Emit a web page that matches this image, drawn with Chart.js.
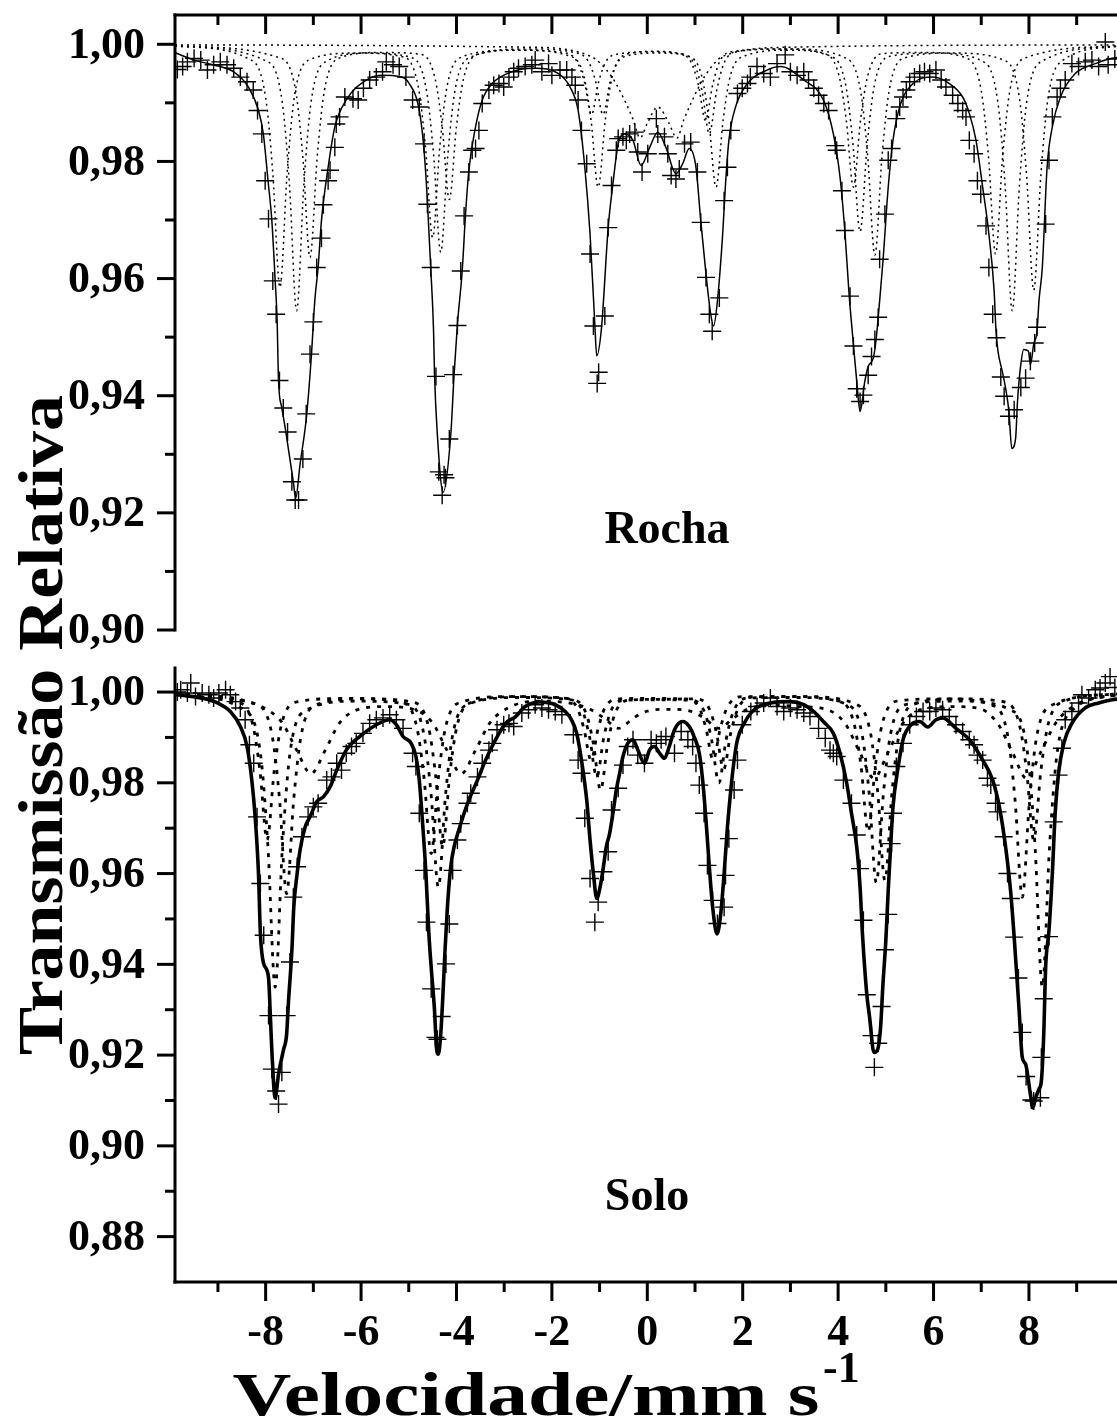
<!DOCTYPE html>
<html>
<head>
<meta charset="utf-8">
<script src="https://cdn.jsdelivr.net/npm/chart.js@4.4.1/dist/chart.umd.min.js"></script>
<style>
  html, body { margin: 0; padding: 0; background: #fff; overflow: hidden; }
  #wrap { position: relative; width: 1117px; height: 1425px; overflow: hidden; }
  #wrap canvas { position: absolute; left: 0; top: 0; }
</style>
</head>
<body>
<div id="wrap">
  <canvas id="rocha" width="1130" height="1425"></canvas>
  <canvas id="solo" width="1130" height="1425"></canvas>
</div>
<script>
/* ===============================
   Axis ticks / labels
================================ */
const xMajorTicks = [-8, -6, -4, -2, 0, 2, 4, 6, 8];
const xMinorTicks = [-9, -7, -5, -3, -1, 1, 3, 5, 7, 9];
const xTickLabels = ["-8", "-6", "-4", "-2", "0", "2", "4", "6", "8"];

const rochaYTicks = [0.90, 0.92, 0.94, 0.96, 0.98, 1.00];
const rochaYMinor = [0.91, 0.93, 0.95, 0.97, 0.99];
const rochaYLabels = ["0,90", "0,92", "0,94", "0,96", "0,98", "1,00"];

const soloYTicks = [0.88, 0.90, 0.92, 0.94, 0.96, 0.98, 1.00];
const soloYMinor = [0.89, 0.91, 0.93, 0.95, 0.97, 0.99];
const soloYLabels = ["0,88", "0,90", "0,92", "0,94", "0,96", "0,98", "1,00"];

/* ===============================
   Rocha - experimental points
================================ */
const rochaDadosX = [-9.85, -9.74, -9.64, -9.50, -9.36, -9.22, -9.09, -8.95, -8.81, -8.67, -8.53, -8.39, -8.26, -8.17, -8.08, -8.01, -7.94, -7.85, -7.78, -7.71, -7.63, -7.54, -7.45, -7.38, -7.31, -7.22, -7.15, -7.07, -7.00, -6.93, -6.83, -6.79, -6.69, -6.65, -6.55, -6.52, -6.45, -6.34, -6.17, -6.06, -5.95, -5.82, -5.68, -5.55, -5.47, -5.33, -5.20, -5.06, -4.92, -4.78, -4.68, -4.61, -4.54, -4.43, -4.37, -4.30, -4.26, -4.23, -4.15, -4.07, -3.98, -3.91, -3.84, -3.74, -3.67, -3.60, -3.53, -3.46, -3.32, -3.22, -3.11, -3.01, -2.90, -2.80, -2.70, -2.56, -2.42, -2.35, -2.21, -2.07, -2.00, -1.83, -1.69, -1.58, -1.51, -1.45, -1.38, -1.27, -1.20, -1.13, -1.05, -1.02, -0.89, -0.82, -0.75, -0.65, -0.61, -0.51, -0.44, -0.37, -0.26, -0.20, -0.11, 0.01, 0.19, 0.22, 0.36, 0.43, 0.50, 0.60, 0.67, 0.78, 0.91, 1.05, 1.12, 1.23, 1.30, 1.36, 1.51, 1.61, 1.68, 1.75, 1.89, 1.99, 2.10, 2.16, 2.30, 2.44, 2.58, 2.72, 2.89, 3.00, 3.14, 3.28, 3.38, 3.49, 3.59, 3.70, 3.80, 3.94, 3.97, 4.08, 4.14, 4.25, 4.32, 4.39, 4.46, 4.53, 4.63, 4.70, 4.77, 4.84, 4.87, 4.98, 5.05, 5.12, 5.22, 5.29, 5.36, 5.43, 5.50, 5.60, 5.71, 5.81, 5.92, 6.05, 6.16, 6.26, 6.40, 6.51, 6.61, 6.68, 6.75, 6.85, 6.92, 6.99, 7.10, 7.16, 7.24, 7.32, 7.41, 7.48, 7.58, 7.69, 7.83, 7.93, 8.03, 8.12, 8.17, 8.35, 8.42, 8.49, 8.59, 8.66, 8.76, 8.90, 9.04, 9.18, 9.32, 9.46, 9.60, 9.66, 9.80];
const rochaDadosY = [0.9957, 0.9962, 0.9970, 0.9976, 0.9973, 0.9956, 0.9965, 0.9970, 0.9965, 0.9959, 0.9944, 0.9936, 0.9922, 0.9887, 0.9847, 0.9767, 0.9702, 0.9596, 0.9539, 0.9426, 0.9379, 0.9338, 0.9253, 0.9222, 0.9222, 0.9292, 0.9369, 0.9471, 0.9526, 0.9619, 0.9669, 0.9726, 0.9767, 0.9785, 0.9824, 0.9864, 0.9876, 0.9910, 0.9907, 0.9905, 0.9925, 0.9939, 0.9944, 0.9953, 0.9970, 0.9965, 0.9962, 0.9944, 0.9905, 0.9893, 0.9830, 0.9727, 0.9619, 0.9433, 0.9270, 0.9230, 0.9265, 0.9260, 0.9326, 0.9436, 0.9520, 0.9613, 0.9707, 0.9782, 0.9819, 0.9822, 0.9853, 0.9899, 0.9922, 0.9930, 0.9933, 0.9927, 0.9944, 0.9953, 0.9959, 0.9962, 0.9965, 0.9973, 0.9953, 0.9967, 0.9947, 0.9956, 0.9956, 0.9944, 0.9930, 0.9905, 0.9853, 0.9796, 0.9642, 0.9519, 0.9421, 0.9440, 0.9536, 0.9687, 0.9759, 0.9819, 0.9839, 0.9842, 0.9836, 0.9847, 0.9850, 0.9816, 0.9782, 0.9813, 0.9873, 0.9847, 0.9842, 0.9813, 0.9776, 0.9770, 0.9787, 0.9830, 0.9833, 0.9782, 0.9696, 0.9602, 0.9539, 0.9510, 0.9567, 0.9733, 0.9790, 0.9853, 0.9916, 0.9925, 0.9933, 0.9944, 0.9962, 0.9950, 0.9944, 0.9967, 0.9982, 0.9953, 0.9947, 0.9953, 0.9939, 0.9925, 0.9913, 0.9899, 0.9887, 0.9827, 0.9819, 0.9750, 0.9682, 0.9570, 0.9485, 0.9412, 0.9390, 0.9401, 0.9435, 0.9467, 0.9496, 0.9534, 0.9633, 0.9710, 0.9802, 0.9822, 0.9873, 0.9893, 0.9910, 0.9922, 0.9936, 0.9944, 0.9950, 0.9953, 0.9950, 0.9956, 0.9939, 0.9927, 0.9913, 0.9899, 0.9887, 0.9876, 0.9836, 0.9813, 0.9767, 0.9744, 0.9690, 0.9619, 0.9539, 0.9499, 0.9432, 0.9399, 0.9365, 0.9376, 0.9414, 0.9430, 0.9459, 0.9490, 0.9517, 0.9693, 0.9802, 0.9876, 0.9910, 0.9925, 0.9939, 0.9967, 0.9962, 0.9970, 0.9973, 0.9962, 1.0004, 0.9965, 0.9975];

/* Rocha - fitted envelope */
const rochaAjusteX = [-9.88, -9.50, -9.10, -8.67, -8.36, -8.15, -8.05, -7.95, -7.87, -7.80, -7.76, -7.73, -7.66, -7.59, -7.42, -7.37, -7.28, -7.14, -7.04, -6.97, -6.90, -6.83, -6.69, -6.55, -6.31, -5.89, -5.55, -5.20, -4.99, -4.78, -4.68, -4.61, -4.54, -4.48, -4.46, -4.40, -4.28, -4.12, -4.05, -3.98, -3.88, -3.81, -3.74, -3.60, -3.46, -3.25, -2.84, -2.35, -1.86, -1.62, -1.45, -1.31, -1.20, -1.10, -1.06, -0.96, -0.82, -0.72, -0.61, -0.47, -0.30, -0.13, 0.05, 0.22, 0.39, 0.60, 0.74, 0.88, 1.02, 1.12, 1.23, 1.33, 1.39, 1.47, 1.58, 1.64, 1.71, 1.85, 2.10, 2.51, 2.79, 3.28, 3.69, 3.90, 4.04, 4.14, 4.23, 4.32, 4.39, 4.46, 4.56, 4.63, 4.74, 4.80, 4.87, 4.94, 5.05, 5.15, 5.29, 5.57, 5.99, 6.33, 6.61, 6.75, 6.89, 7.03, 7.16, 7.27, 7.31, 7.35, 7.44, 7.51, 7.58, 7.64, 7.72, 7.76, 7.82, 7.89, 7.99, 8.03, 8.10, 8.17, 8.21, 8.28, 8.38, 8.49, 8.66, 8.97, 9.39, 9.74, 9.90];
const rochaAjusteY = [0.9985, 0.9973, 0.9965, 0.9953, 0.9927, 0.9887, 0.9848, 0.9767, 0.9699, 0.9596, 0.9530, 0.9426, 0.9379, 0.9345, 0.9253, 0.9225, 0.9282, 0.9367, 0.9470, 0.9562, 0.9619, 0.9699, 0.9790, 0.9859, 0.9905, 0.9939, 0.9947, 0.9945, 0.9933, 0.9887, 0.9819, 0.9733, 0.9619, 0.9510, 0.9436, 0.9333, 0.9235, 0.9333, 0.9436, 0.9522, 0.9613, 0.9710, 0.9785, 0.9859, 0.9905, 0.9933, 0.9953, 0.9959, 0.9950, 0.9927, 0.9887, 0.9790, 0.9676, 0.9522, 0.9468, 0.9516, 0.9687, 0.9762, 0.9830, 0.9847, 0.9836, 0.9793, 0.9824, 0.9850, 0.9824, 0.9779, 0.9796, 0.9822, 0.9790, 0.9699, 0.9608, 0.9539, 0.9519, 0.9562, 0.9676, 0.9762, 0.9836, 0.9893, 0.9933, 0.9956, 0.9962, 0.9939, 0.9905, 0.9847, 0.9773, 0.9682, 0.9573, 0.9488, 0.9425, 0.9373, 0.9425, 0.9450, 0.9465, 0.9499, 0.9562, 0.9630, 0.9756, 0.9836, 0.9893, 0.9933, 0.9944, 0.9933, 0.9910, 0.9882, 0.9836, 0.9756, 0.9676, 0.9579, 0.9510, 0.9476, 0.9442, 0.9413, 0.9373, 0.9310, 0.9327, 0.9390, 0.9447, 0.9479, 0.9476, 0.9453, 0.9488, 0.9510, 0.9562, 0.9619, 0.9790, 0.9859, 0.9910, 0.9950, 0.9967, 0.9976, 0.9978];

/* Rocha - subspectra (dotted) */
const rochaSex1X = [-9.9, -8.30, -8.00, -7.85, -7.70, -7.55, -7.40, -7.10, -6.10, -5.10, -4.80, -4.65, -4.50, -4.35, -4.20, -3.90, -2.80, -1.77, -1.47, -1.32, -1.17, -1.02, -0.87, -0.57, 0.07, 0.70, 1.00, 1.15, 1.30, 1.45, 1.60, 1.90, 3.00, 4.17, 4.47, 4.62, 4.77, 4.92, 5.07, 5.37, 6.40, 7.50, 7.80, 7.95, 8.10, 8.25, 8.40, 8.70, 9.9];
const rochaSex1Y = [0.9997, 0.9973, 0.9909, 0.9780, 0.9585, 0.9780, 0.9909, 0.9973, 0.9985, 0.9978, 0.9927, 0.9825, 0.9670, 0.9825, 0.9927, 0.9978, 0.9990, 0.9986, 0.9970, 0.9936, 0.9880, 0.9936, 0.9970, 0.9984, 0.9987, 0.9984, 0.9964, 0.9919, 0.9847, 0.9919, 0.9966, 0.9988, 0.9992, 0.9976, 0.9921, 0.9809, 0.9640, 0.9809, 0.9921, 0.9976, 0.9985, 0.9972, 0.9908, 0.9777, 0.9580, 0.9777, 0.9908, 0.9972, 0.9997];
const rochaSex2X = [-9.9, -7.95, -7.65, -7.50, -7.35, -7.20, -7.05, -6.75, -5.85, -4.93, -4.63, -4.48, -4.33, -4.18, -4.03, -3.73, -2.70, -1.63, -1.33, -1.18, -1.03, -0.88, -0.73, -0.43, 0.20, 0.84, 1.14, 1.29, 1.44, 1.59, 1.74, 2.04, 2.95, 3.86, 4.16, 4.31, 4.46, 4.61, 4.76, 5.06, 6.05, 7.05, 7.35, 7.50, 7.65, 7.80, 7.95, 8.25, 9.9];
const rochaSex2Y = [0.9997, 0.9970, 0.9900, 0.9759, 0.9545, 0.9759, 0.9900, 0.9970, 0.9985, 0.9977, 0.9922, 0.9812, 0.9645, 0.9812, 0.9922, 0.9977, 0.9990, 0.9980, 0.9946, 0.9871, 0.9756, 0.9871, 0.9946, 0.9980, 0.9985, 0.9980, 0.9946, 0.9871, 0.9756, 0.9871, 0.9946, 0.9980, 0.9990, 0.9979, 0.9930, 0.9830, 0.9680, 0.9830, 0.9930, 0.9979, 0.9985, 0.9970, 0.9900, 0.9759, 0.9545, 0.9759, 0.9900, 0.9970, 0.9997];
const rochaSex3X = [-9.9, -7.67, -7.37, -7.22, -7.07, -6.92, -6.77, -6.47, -5.60, -4.75, -4.45, -4.30, -4.15, -4.00, -3.85, -3.55, -2.50, -1.53, -1.23, -1.08, -0.93, -0.78, -0.63, -0.33, 0.15, 0.62, 0.92, 1.07, 1.22, 1.37, 1.52, 1.82, 2.80, 3.72, 4.02, 4.17, 4.32, 4.47, 4.62, 4.92, 5.80, 6.70, 7.00, 7.15, 7.30, 7.45, 7.60, 7.90, 9.9];
const rochaSex3Y = [0.9997, 0.9976, 0.9920, 0.9807, 0.9636, 0.9807, 0.9920, 0.9976, 0.9986, 0.9983, 0.9942, 0.9860, 0.9735, 0.9860, 0.9942, 0.9983, 0.9992, 0.9986, 0.9970, 0.9936, 0.9880, 0.9936, 0.9970, 0.9985, 0.9988, 0.9985, 0.9969, 0.9931, 0.9870, 0.9931, 0.9971, 0.9988, 0.9992, 0.9984, 0.9946, 0.9871, 0.9756, 0.9871, 0.9946, 0.9984, 0.9986, 0.9976, 0.9921, 0.9810, 0.9642, 0.9810, 0.9921, 0.9976, 0.9997];
const rochaDubX = [-9.9, -2.50, -1.20, -0.75, -0.45, -0.30, -0.15, 0.00, 0.22, 0.45, 0.62, 0.77, 0.92, 1.20, 1.60, 3.00, 9.9];
const rochaDubY = [0.9999, 0.9995, 0.9980, 0.9945, 0.9900, 0.9872, 0.9840, 0.9865, 0.9893, 0.9866, 0.9840, 0.9872, 0.9900, 0.9945, 0.9980, 0.9995, 0.9999];

/* ===============================
   Solo - experimental points
================================ */
const soloDadosX = [-9.85, -9.78, -9.64, -9.57, -9.47, -9.33, -9.19, -9.09, -8.98, -8.84, -8.74, -8.63, -8.53, -8.43, -8.34, -8.25, -8.18, -8.11, -8.04, -7.94, -7.87, -7.78, -7.73, -7.66, -7.56, -7.49, -7.42, -7.34, -7.24, -7.11, -7.00, -6.90, -6.72, -6.62, -6.51, -6.41, -6.31, -6.20, -6.10, -5.96, -5.82, -5.68, -5.54, -5.40, -5.26, -5.12, -4.92, -4.85, -4.78, -4.68, -4.63, -4.53, -4.44, -4.40, -4.31, -4.22, -4.15, -4.08, -3.98, -3.91, -3.77, -3.70, -3.56, -3.46, -3.32, -3.25, -3.15, -3.01, -2.90, -2.80, -2.63, -2.49, -2.35, -2.21, -2.07, -1.93, -1.79, -1.55, -1.45, -1.38, -1.31, -1.20, -1.10, -1.03, -0.92, -0.82, -0.75, -0.61, -0.51, -0.41, -0.30, -0.20, -0.06, 0.08, 0.19, 0.29, 0.39, 0.57, 0.71, 0.85, 0.95, 1.02, 1.09, 1.19, 1.26, 1.37, 1.47, 1.61, 1.64, 1.71, 1.82, 1.89, 1.99, 2.17, 2.30, 2.44, 2.58, 2.72, 2.86, 3.00, 3.14, 3.28, 3.41, 3.59, 3.73, 3.83, 3.90, 3.97, 4.11, 4.28, 4.39, 4.46, 4.53, 4.60, 4.70, 4.76, 4.84, 4.91, 4.98, 5.05, 5.12, 5.15, 5.22, 5.36, 5.50, 5.64, 5.78, 5.92, 6.05, 6.19, 6.33, 6.47, 6.61, 6.75, 6.85, 6.92, 7.03, 7.13, 7.20, 7.30, 7.34, 7.47, 7.55, 7.62, 7.69, 7.78, 7.86, 7.94, 8.05, 8.10, 8.24, 8.26, 8.31, 8.42, 8.52, 8.62, 8.69, 8.76, 8.90, 9.04, 9.11, 9.25, 9.39, 9.49, 9.60, 9.70, 9.80];
const soloDadosY = [1.0000, 1.0005, 0.9998, 1.0020, 0.9990, 0.9998, 0.9994, 0.9987, 0.9998, 1.0005, 0.9994, 0.9979, 0.9965, 0.9939, 0.9884, 0.9843, 0.9725, 0.9578, 0.9464, 0.9287, 0.9169, 0.9121, 0.9092, 0.9162, 0.9287, 0.9405, 0.9548, 0.9615, 0.9681, 0.9725, 0.9747, 0.9755, 0.9806, 0.9813, 0.9843, 0.9828, 0.9865, 0.9880, 0.9887, 0.9909, 0.9931, 0.9939, 0.9943, 0.9950, 0.9939, 0.9920, 0.9865, 0.9836, 0.9733, 0.9607, 0.9493, 0.9346, 0.9239, 0.9235, 0.9285, 0.9401, 0.9489, 0.9607, 0.9674, 0.9710, 0.9755, 0.9777, 0.9813, 0.9843, 0.9872, 0.9887, 0.9917, 0.9928, 0.9931, 0.9924, 0.9954, 0.9961, 0.9972, 0.9965, 0.9961, 0.9957, 0.9950, 0.9906, 0.9850, 0.9821, 0.9722, 0.9589, 0.9493, 0.9537, 0.9604, 0.9648, 0.9740, 0.9788, 0.9839, 0.9880, 0.9895, 0.9861, 0.9843, 0.9895, 0.9887, 0.9895, 0.9902, 0.9865, 0.9913, 0.9895, 0.9880, 0.9843, 0.9795, 0.9733, 0.9618, 0.9541, 0.9490, 0.9526, 0.9596, 0.9677, 0.9784, 0.9850, 0.9928, 0.9957, 0.9968, 0.9976, 0.9987, 0.9968, 0.9957, 0.9965, 0.9961, 0.9954, 0.9946, 0.9920, 0.9898, 0.9872, 0.9865, 0.9858, 0.9806, 0.9755, 0.9685, 0.9611, 0.9497, 0.9333, 0.9243, 0.9173, 0.9226, 0.9307, 0.9432, 0.9510, 0.9666, 0.9733, 0.9836, 0.9887, 0.9928, 0.9946, 0.9957, 0.9957, 0.9965, 0.9961, 0.9946, 0.9928, 0.9913, 0.9895, 0.9884, 0.9861, 0.9850, 0.9810, 0.9795, 0.9755, 0.9736, 0.9681, 0.9600, 0.9545, 0.9460, 0.9370, 0.9250, 0.9153, 0.9101, 0.9099, 0.9106, 0.9195, 0.9324, 0.9461, 0.9714, 0.9817, 0.9876, 0.9939, 0.9957, 0.9976, 0.9994, 0.9987, 1.0005, 1.0009, 1.0020, 1.0034, 1.0010];

/* Solo - fitted envelope */
const soloAjusteX = [-9.90, -9.36, -9.01, -8.74, -8.53, -8.39, -8.29, -8.22, -8.15, -8.11, -8.04, -7.94, -7.90, -7.87, -7.80, -7.73, -7.63, -7.56, -7.52, -7.45, -7.41, -7.34, -7.28, -7.17, -7.07, -6.93, -6.79, -6.65, -6.51, -6.31, -6.03, -5.68, -5.40, -5.26, -5.12, -4.95, -4.85, -4.78, -4.71, -4.64, -4.58, -4.53, -4.46, -4.42, -4.38, -4.33, -4.29, -4.24, -4.19, -4.12, -4.05, -3.95, -3.84, -3.74, -3.56, -3.39, -3.18, -2.97, -2.76, -2.56, -2.25, -1.93, -1.72, -1.59, -1.48, -1.38, -1.27, -1.20, -1.13, -1.06, -0.99, -0.92, -0.86, -0.79, -0.72, -0.65, -0.58, -0.51, -0.41, -0.30, -0.20, -0.06, 0.05, 0.15, 0.26, 0.36, 0.46, 0.57, 0.74, 0.88, 0.98, 1.09, 1.16, 1.23, 1.30, 1.37, 1.46, 1.54, 1.61, 1.68, 1.75, 1.82, 1.89, 2.03, 2.24, 2.58, 3.00, 3.28, 3.49, 3.69, 3.90, 4.04, 4.18, 4.28, 4.39, 4.46, 4.51, 4.60, 4.66, 4.75, 4.82, 4.89, 4.94, 5.00, 5.05, 5.10, 5.15, 5.26, 5.36, 5.53, 5.71, 5.88, 6.05, 6.19, 6.47, 6.75, 7.03, 7.24, 7.38, 7.51, 7.62, 7.69, 7.79, 7.86, 7.93, 8.03, 8.08, 8.14, 8.21, 8.26, 8.31, 8.35, 8.42, 8.49, 8.55, 8.62, 8.73, 8.90, 9.18, 9.46, 9.74, 9.90];
const soloAjusteY = [0.9995, 0.9987, 0.9976, 0.9957, 0.9924, 0.9880, 0.9806, 0.9725, 0.9600, 0.9467, 0.9401, 0.9371, 0.9283, 0.9210, 0.9106, 0.9158, 0.9210, 0.9246, 0.9320, 0.9431, 0.9526, 0.9600, 0.9651, 0.9703, 0.9725, 0.9758, 0.9769, 0.9791, 0.9828, 0.9872, 0.9902, 0.9928, 0.9939, 0.9928, 0.9902, 0.9887, 0.9858, 0.9806, 0.9711, 0.9600, 0.9470, 0.9394, 0.9298, 0.9217, 0.9202, 0.9246, 0.9320, 0.9431, 0.9526, 0.9615, 0.9659, 0.9696, 0.9733, 0.9762, 0.9806, 0.9850, 0.9895, 0.9931, 0.9946, 0.9968, 0.9978, 0.9972, 0.9957, 0.9939, 0.9909, 0.9850, 0.9762, 0.9674, 0.9600, 0.9545, 0.9570, 0.9615, 0.9659, 0.9688, 0.9733, 0.9784, 0.9821, 0.9858, 0.9887, 0.9895, 0.9873, 0.9843, 0.9873, 0.9880, 0.9865, 0.9854, 0.9880, 0.9917, 0.9935, 0.9924, 0.9902, 0.9865, 0.9806, 0.9718, 0.9615, 0.9526, 0.9467, 0.9512, 0.9600, 0.9703, 0.9784, 0.9850, 0.9895, 0.9931, 0.9961, 0.9976, 0.9979, 0.9972, 0.9957, 0.9935, 0.9909, 0.9865, 0.9799, 0.9733, 0.9659, 0.9570, 0.9467, 0.9335, 0.9283, 0.9206, 0.9210, 0.9261, 0.9357, 0.9453, 0.9563, 0.9659, 0.9747, 0.9836, 0.9895, 0.9928, 0.9935, 0.9923, 0.9939, 0.9943, 0.9920, 0.9895, 0.9850, 0.9806, 0.9747, 0.9659, 0.9556, 0.9460, 0.9305, 0.9195, 0.9180, 0.9114, 0.9084, 0.9106, 0.9125, 0.9143, 0.9246, 0.9394, 0.9475, 0.9600, 0.9733, 0.9821, 0.9887, 0.9931, 0.9965, 0.9976, 0.9983, 0.9985];

/* Solo - subspectra (dotted) */
const soloSex1X = [-9.9, -8.40, -8.10, -7.95, -7.80, -7.65, -7.50, -7.20, -6.10, -4.98, -4.68, -4.53, -4.38, -4.23, -4.08, -3.78, -2.70, -1.66, -1.36, -1.21, -1.06, -0.91, -0.76, -0.46, 0.22, 0.90, 1.20, 1.35, 1.50, 1.65, 1.80, 2.10, 3.15, 4.20, 4.50, 4.65, 4.80, 4.95, 5.10, 5.40, 6.55, 7.68, 7.98, 8.13, 8.28, 8.43, 8.58, 8.88, 9.9];
const soloSex1Y = [0.9995, 0.9957, 0.9857, 0.9656, 0.9350, 0.9656, 0.9857, 0.9957, 0.9980, 0.9972, 0.9905, 0.9772, 0.9570, 0.9772, 0.9905, 0.9972, 0.9988, 0.9984, 0.9959, 0.9901, 0.9813, 0.9901, 0.9959, 0.9982, 0.9983, 0.9982, 0.9956, 0.9894, 0.9800, 0.9894, 0.9956, 0.9987, 0.9988, 0.9972, 0.9908, 0.9777, 0.9580, 0.9777, 0.9908, 0.9972, 0.9980, 0.9957, 0.9857, 0.9656, 0.9350, 0.9656, 0.9857, 0.9957, 0.9995];
const soloSex2X = [-9.9, -8.57, -8.27, -8.12, -7.97, -7.82, -7.67, -7.37, -6.25, -5.13, -4.83, -4.68, -4.53, -4.38, -4.23, -3.93, -2.85, -1.78, -1.48, -1.33, -1.18, -1.03, -0.88, -0.58, 0.10, 0.78, 1.08, 1.23, 1.38, 1.53, 1.68, 1.98, 3.00, 4.03, 4.33, 4.48, 4.63, 4.78, 4.93, 5.23, 6.25, 7.26, 7.56, 7.71, 7.86, 8.01, 8.16, 8.46, 9.9];
const soloSex2Y = [0.9996, 0.9978, 0.9928, 0.9827, 0.9674, 0.9827, 0.9928, 0.9978, 0.9986, 0.9977, 0.9922, 0.9811, 0.9644, 0.9811, 0.9922, 0.9977, 0.9990, 0.9987, 0.9967, 0.9920, 0.9850, 0.9920, 0.9967, 0.9985, 0.9986, 0.9985, 0.9967, 0.9920, 0.9850, 0.9920, 0.9967, 0.9990, 0.9990, 0.9980, 0.9932, 0.9837, 0.9692, 0.9837, 0.9932, 0.9980, 0.9985, 0.9970, 0.9901, 0.9760, 0.9548, 0.9760, 0.9901, 0.9970, 0.9996];
const soloSex3X = [-9.9, -8.16, -7.86, -7.71, -7.56, -7.41, -7.26, -6.96, -5.90, -4.89, -4.59, -4.44, -4.29, -4.14, -3.99, -3.69, -2.65, -1.58, -1.28, -1.13, -0.98, -0.83, -0.68, -0.38, 0.30, 1.00, 1.30, 1.45, 1.60, 1.75, 1.90, 2.20, 3.30, 4.38, 4.68, 4.83, 4.98, 5.13, 5.28, 5.58, 6.55, 7.50, 7.80, 7.95, 8.10, 8.25, 8.40, 8.70, 9.9];
const soloSex3Y = [0.9996, 0.9971, 0.9902, 0.9765, 0.9556, 0.9765, 0.9902, 0.9971, 0.9985, 0.9977, 0.9925, 0.9819, 0.9659, 0.9819, 0.9925, 0.9977, 0.9990, 0.9984, 0.9952, 0.9886, 0.9784, 0.9886, 0.9952, 0.9982, 0.9984, 0.9985, 0.9963, 0.9910, 0.9830, 0.9910, 0.9963, 0.9989, 0.9990, 0.9973, 0.9909, 0.9780, 0.9585, 0.9780, 0.9909, 0.9973, 0.9985, 0.9978, 0.9928, 0.9827, 0.9674, 0.9827, 0.9928, 0.9978, 0.9996];
const soloLargoX = [-9.9, -8.60, -8.05, -7.65, -7.35, -7.05, -6.75, -6.45, -6.05, -5.50, -4.90, -4.50, -4.20, -3.90, -3.60, -3.30, -2.90, -2.30, -1.60, -1.20, -0.90, -0.60, -0.30, 0.00, 0.45, 0.90, 1.20, 1.50, 1.80, 2.10, 2.60, 3.20, 3.75, 4.15, 4.45, 4.75, 5.05, 5.35, 5.75, 6.40, 6.95, 7.35, 7.65, 7.95, 8.25, 8.55, 8.95, 9.9];
const soloLargoY = [0.9995, 0.9984, 0.9966, 0.9932, 0.9872, 0.9820, 0.9872, 0.9932, 0.9962, 0.9968, 0.9962, 0.9932, 0.9872, 0.9820, 0.9872, 0.9932, 0.9966, 0.9980, 0.9975, 0.9962, 0.9942, 0.9920, 0.9942, 0.9958, 0.9962, 0.9958, 0.9942, 0.9920, 0.9942, 0.9962, 0.9972, 0.9968, 0.9962, 0.9930, 0.9868, 0.9810, 0.9868, 0.9930, 0.9962, 0.9968, 0.9964, 0.9930, 0.9868, 0.9810, 0.9868, 0.9930, 0.9970, 0.9995];

/* ===============================
   Helpers
================================ */
const FONT = '"Liberation Serif", "Times New Roman", serif';

function pts(xs, ys) {
  return xs.map((x, i) => ({ x: x, y: ys[i] }));
}

function dotted(xs, ys, width, dash) {
  return {
    data: pts(xs, ys), showLine: true, pointRadius: 0,
    borderColor: "#000", borderWidth: width, borderDash: dash,
    cubicInterpolationMode: "monotone"
  };
}

function solid(xs, ys, width) {
  return {
    data: pts(xs, ys), showLine: true, pointRadius: 0,
    borderColor: "#000", borderWidth: width,
    cubicInterpolationMode: "monotone"
  };
}

function crosses(xs, ys) {
  return {
    data: pts(xs, ys), showLine: false,
    pointStyle: "cross", pointRadius: 9, pointBorderWidth: 1.4,
    pointBorderColor: "#000", pointBackgroundColor: "#000"
  };
}

function seg(ctx, x1, y1, x2, y2) {
  ctx.beginPath();
  ctx.moveTo(x1, y1);
  ctx.lineTo(x2, y2);
  ctx.stroke();
}

// bold text stretched along its length, like the original figure
function stretchText(ctx, text, cx, cy, size, length, angle) {
  ctx.save();
  ctx.font = "bold " + size + "px " + FONT;
  const w = ctx.measureText(text).width;
  ctx.translate(cx, cy);
  ctx.rotate(angle);
  ctx.scale(length / w, 1);
  ctx.textAlign = "center";
  ctx.textBaseline = "alphabetic";
  ctx.fillText(text, 0, 0);
  ctx.restore();
}

/* ===============================
   Axes plugin
================================ */
const framePlugin = {
  id: "frame",
  afterDraw(chart, args, o) {
    const { ctx, chartArea: a } = chart;
    const x = chart.scales.x, y = chart.scales.y;
    ctx.save();
    ctx.strokeStyle = "#000";
    ctx.fillStyle = "#000";
    ctx.lineWidth = 3;
    ctx.lineCap = "square";

    seg(ctx, a.left, a.top, a.left, a.bottom);
    const edge = o.edge === "top" ? a.top : a.bottom;
    seg(ctx, a.left, edge, a.right, edge);

    ctx.lineCap = "butt";
    o.yMajor.forEach(v => { const p = y.getPixelForValue(v); seg(ctx, a.left - 18, p, a.left, p); });
    o.yMinor.forEach(v => { const p = y.getPixelForValue(v); seg(ctx, a.left - 10, p, a.left, p); });

    // top frame: ticks point inwards; bottom frame: ticks point outwards
    xMajorTicks.forEach(v => { const p = x.getPixelForValue(v); seg(ctx, p, edge, p, edge + 19); });
    xMinorTicks.forEach(v => { const p = x.getPixelForValue(v); seg(ctx, p, edge, p, edge + 10); });

    ctx.font = "bold 44px " + FONT;
    ctx.textAlign = "right";
    ctx.textBaseline = "middle";
    o.yLabels.forEach((t, i) => ctx.fillText(t, a.left - 30, y.getPixelForValue(o.yMajor[i]) + 2));

    if (o.edge === "bottom") {
      ctx.textAlign = "center";
      ctx.textBaseline = "alphabetic";
      xTickLabels.forEach((t, i) => ctx.fillText(t, x.getPixelForValue(xMajorTicks[i]), a.bottom + 63));
      stretchText(ctx, "Velocidade/mm s", 526, 1415, 62, 587, 0);
      ctx.font = "bold 44px " + FONT;
      ctx.textAlign = "left";
      ctx.fillText("-1", 823, 1382);
    } else {
      stretchText(ctx, "Transmissão Relativa", 62, 725, 64, 660, -Math.PI / 2);
    }

    ctx.font = "bold 46px " + FONT;
    ctx.textAlign = "center";
    ctx.textBaseline = "alphabetic";
    ctx.fillText(o.name, o.nameX, o.nameY);
    ctx.restore();
  }
};

function makePanel(id, padding, yMin, yMax, datasets, frame) {
  return new Chart(document.getElementById(id), {
    type: "scatter",
    data: { datasets: datasets },
    options: {
      responsive: false,
      animation: false,
      devicePixelRatio: 1,
      layout: { padding: padding },
      scales: {
        x: { type: "linear", min: -9.9, max: 9.9, display: false },
        y: { type: "linear", min: yMin, max: yMax, display: false }
      },
      plugins: { legend: { display: false }, tooltip: { enabled: false }, frame: frame }
    },
    plugins: [framePlugin]
  });
}

/* ===============================
   Panels
================================ */
const topDash = [2, 4];
makePanel("rocha", { top: 15, left: 175, right: 6, bottom: 795 }, 0.90, 1.005, [
  dotted(rochaSex1X, rochaSex1Y, 1.5, topDash),
  dotted(rochaSex2X, rochaSex2Y, 1.5, topDash),
  dotted(rochaSex3X, rochaSex3Y, 1.5, topDash),
  dotted(rochaDubX, rochaDubY, 1.5, topDash),
  solid(rochaAjusteX, rochaAjusteY, 1.5),
  crosses(rochaDadosX, rochaDadosY)
], { edge: "top", yMajor: rochaYTicks, yMinor: rochaYMinor, yLabels: rochaYLabels, name: "Rocha", nameX: 667, nameY: 543 });

const botDash = [4, 7];
makePanel("solo", { top: 668, left: 175, right: 6, bottom: 143 }, 0.870, 1.0053, [
  dotted(soloSex1X, soloSex1Y, 2.8, botDash),
  dotted(soloSex2X, soloSex2Y, 2.8, botDash),
  dotted(soloSex3X, soloSex3Y, 2.8, botDash),
  dotted(soloLargoX, soloLargoY, 2.8, botDash),
  solid(soloAjusteX, soloAjusteY, 3.6),
  crosses(soloDadosX, soloDadosY)
], { edge: "bottom", yMajor: soloYTicks, yMinor: soloYMinor, yLabels: soloYLabels, name: "Solo", nameX: 647, nameY: 1210 });
</script>
</body>
</html>
